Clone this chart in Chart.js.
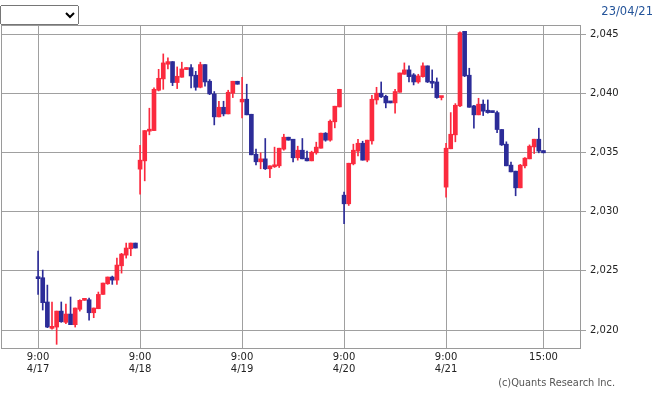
<!DOCTYPE html>
<html>
<head>
<meta charset="utf-8">
<script src="https://cdn.jsdelivr.net/npm/chart.js@4.4.1/dist/chart.umd.min.js"></script>
<style>
  html, body { margin: 0; padding: 0; background: #fff; }
  #wrap { position: relative; width: 659px; height: 394px; overflow: hidden; }
  #c { position: absolute; left: 0; top: 0; }
  #sel { position: absolute; left: 0; top: 5px; width: 79px; height: 20px; font: 11px "DejaVu Sans"; }
  #date { position: absolute; right: 6px; top: 4px; font: 11.5px "DejaVu Sans"; color: #24549a; }
  #copy { position: absolute; right: 44px; top: 377px; font: 9.8px "DejaVu Sans"; color: #555; }
</style>
</head>
<body>
<div id="wrap">
  <canvas id="c" width="659" height="394"></canvas>
  <select id="sel"><option></option></select>
  <div id="date">23/04/21</div>
  <div id="copy">(c)Quants Research Inc.</div>
</div>
<script>
// ---- data ----
const days = ['4/17', '4/18', '4/19', '4/20', '4/21'];
const slotTimes = ['9:00','9:15','9:30','9:45','10:00','10:15','10:30','10:45','11:00','11:15','11:30',
                   '12:30','12:45','13:00','13:15','13:30','13:45','14:00','14:15','14:30','14:45','15:00'];
const yTicks = [2020, 2025, 2030, 2035, 2040, 2045];
const xTickLabels = [['9:00','4/17'], ['9:00','4/18'], ['9:00','4/19'], ['9:00','4/20'], ['9:00','4/21'], ['15:00']];

// [open, high, low, close] per slot
const ohlc0417 = [
  [2024.48,2026.67,2023.01,2024.34],[2024.42,2025.07,2021.69,2022.31],[2022.37,2023.80,2020.20,2020.25],
  [2020.14,2022.37,2020.08,2020.31],[2020.25,2021.60,2018.79,2021.60],[2021.60,2022.37,2020.65,2020.70],
  [2020.65,2022.20,2020.53,2021.35],[2021.35,2022.79,2020.45,2020.45],[2020.45,2021.86,2020.25,2021.86],
  [2021.75,2022.56,2021.60,2022.51],[2022.51,2022.62,2022.51,2022.62],[2022.56,2022.70,2020.84,2021.46],
  [2021.46,2021.86,2021.04,2021.86],[2021.80,2023.21,2021.80,2023.01],[2023.01,2023.97,2023.01,2023.97],
  [2023.91,2024.48,2023.86,2024.48],[2024.48,2024.56,2023.86,2024.22],[2024.22,2026.08,2023.86,2025.49],
  [2025.43,2026.48,2024.81,2026.42],[2026.33,2027.35,2026.08,2026.93],[2026.87,2027.35,2026.28,2027.35],
  [2027.35,2027.35,2026.93,2026.93]
];
const ohlc0418 = [
  [2033.60,2035.62,2031.49,2034.36],[2034.30,2036.86,2032.61,2036.86],[2036.81,2038.75,2036.50,2036.95],
  [2036.86,2040.47,2036.86,2040.35],[2040.27,2042.04,2040.21,2041.28],[2041.23,2043.34,2040.35,2042.58],
  [2042.47,2043.00,2042.07,2042.69],[2042.69,2042.69,2040.66,2040.92],[2040.92,2042.24,2040.41,2041.45],
  [2041.37,2042.64,2041.37,2042.07],[2042.02,2042.18,2042.02,2042.18],[2042.18,2042.44,2040.47,2041.48],
  [2041.54,2041.87,2040.27,2040.52],[2040.52,2042.64,2040.47,2042.44],[2042.44,2042.44,2040.61,2040.97],
  [2041.03,2041.17,2039.90,2039.96],[2039.96,2040.16,2037.34,2038.02],[2038.02,2039.34,2038.02,2038.83],
  [2038.83,2039.34,2038.10,2038.27],[2038.27,2040.27,2038.27,2040.10],[2040.02,2041.03,2039.65,2041.03],
  [2041.03,2041.03,2040.78,2040.78]
];
const ohlc0419 = [
  [2039.28,2041.37,2037.93,2039.51],[2039.51,2040.78,2038.19,2038.19],[2038.24,2038.24,2034.81,2034.81],
  [2034.86,2035.29,2033.96,2034.22],[2034.22,2034.98,2033.63,2034.47],[2034.47,2036.19,2033.57,2033.63],
  [2033.63,2033.88,2032.87,2033.88],[2033.80,2035.46,2033.74,2033.96],[2033.88,2035.37,2033.74,2035.37],
  [2035.29,2036.55,2035.20,2036.30],[2036.30,2036.30,2036.05,2036.05],[2036.13,2036.13,2034.22,2034.56],
  [2034.56,2035.54,2034.36,2035.20],[2035.20,2036.19,2034.47,2034.47],[2034.53,2035.12,2034.30,2034.30],
  [2034.30,2035.12,2034.30,2035.03],[2034.98,2035.88,2034.86,2035.46],[2035.37,2036.64,2035.37,2036.64],
  [2036.64,2036.69,2035.96,2036.05],[2036.05,2037.76,2035.96,2037.65],[2037.60,2038.92,2037.09,2038.92],
  [2038.86,2040.35,2038.86,2040.35]
];
const ohlc0420 = [
  [2031.40,2031.66,2028.98,2030.67],[2030.67,2034.10,2030.53,2034.10],[2034.05,2035.71,2033.96,2035.20],
  [2035.12,2036.13,2034.72,2035.79],[2035.79,2035.96,2034.36,2034.36],[2034.36,2036.05,2034.22,2036.05],
  [2035.99,2039.85,2035.71,2039.51],[2039.45,2040.52,2039.09,2040.02],[2040.02,2040.97,2039.65,2039.71],
  [2039.76,2039.85,2038.78,2039.20],[2039.26,2039.26,2039.20,2039.20],[2039.20,2040.35,2038.33,2040.16],
  [2040.10,2041.73,2040.10,2041.73],[2041.62,2042.58,2041.62,2041.99],[2041.99,2042.33,2040.97,2041.42],
  [2041.57,2041.68,2040.72,2040.97],[2040.97,2041.62,2040.86,2041.48],[2041.42,2042.58,2041.37,2042.33],
  [2042.33,2042.33,2040.92,2040.97],[2041.03,2041.99,2040.47,2040.86],[2040.97,2041.31,2039.59,2039.65],
  [2039.65,2039.71,2039.45,2039.71]
];
const ohlc0421 = [
  [2032.08,2035.79,2031.23,2035.37],[2035.32,2038.38,2035.32,2036.55],[2036.50,2039.14,2035.91,2039.00],
  [2038.95,2045.20,2038.89,2045.14],[2045.25,2045.25,2041.42,2041.48],[2041.54,2042.13,2038.83,2038.83],
  [2038.95,2039.00,2037.06,2038.19],[2038.19,2039.59,2038.19,2039.09],[2039.09,2039.45,2038.13,2038.50],
  [2038.58,2039.45,2038.33,2038.38],[2038.50,2038.50,2038.38,2038.38],[2038.38,2038.50,2036.69,2036.95],
  [2036.95,2036.95,2035.60,2035.65],[2035.71,2035.91,2033.88,2033.88],[2033.94,2034.19,2033.37,2033.37],
  [2033.43,2033.43,2031.35,2032.02],[2032.02,2034.00,2032.02,2033.94],[2033.88,2034.58,2033.71,2034.53],
  [2034.47,2035.65,2034.47,2035.54],[2035.48,2036.13,2034.92,2036.13],[2036.13,2037.06,2034.98,2035.12],
  [2035.17,2035.17,2034.98,2034.98]
];

// ---- build ----
const perDay = [ohlc0417, ohlc0418, ohlc0419, ohlc0420, ohlc0421];
const nSlots = slotTimes.length;
const candles = [];
perDay.forEach((rows, d) => rows.forEach((r, i) => {
  candles.push({ x: d * nSlots + i, o: r[0], h: r[1], l: r[2], c: r[3] });
}));
const xTickPos = days.map((_, d) => d * nSlots).concat([(days.length - 1) * nSlots + slotTimes.indexOf('15:00')]);

const UP = '#fb2a3e', DOWN = '#2c2c98';
const colorOf = c => (c.c >= c.o ? UP : DOWN);

const frame = {
  id: 'frame',
  afterDraw(chart) {
    const a = chart.chartArea, g = chart.ctx;
    g.save();
    g.strokeStyle = '#9a9a9a';
    g.lineWidth = 1;
    g.strokeRect(Math.round(a.left) + 0.5, Math.round(a.top) + 0.5,
                 Math.round(a.right) - Math.round(a.left) - 1, Math.round(a.bottom) - Math.round(a.top));
    g.restore();
  }
};

Chart.defaults.font.family = 'DejaVu Sans';
Chart.defaults.font.size = 10;
Chart.defaults.color = '#222';

new Chart(document.getElementById('c'), {
  type: 'bar',
  data: {
    datasets: [
      {
        label: 'wick',
        data: candles.map(c => ({ x: c.x, y: [c.l, c.h] })),
        backgroundColor: candles.map(colorOf),
        barThickness: 1,
        minBarLength: 1,
        grouped: false,
        borderWidth: 0,
        order: 2
      },
      {
        label: 'body',
        data: candles.map(c => ({ x: c.x, y: [c.o, c.c] })),
        backgroundColor: candles.map(colorOf),
        barThickness: 4,
        minBarLength: 2,
        grouped: false,
        borderWidth: 0,
        order: 1
      }
    ]
  },
  options: {
    responsive: false,
    animation: false,
    devicePixelRatio: 1,
    layout: { padding: { left: 1, top: 25, right: 0, bottom: 0 } },
    plugins: { legend: { display: false }, tooltip: { enabled: false } },
    scales: {
      x: {
        type: 'linear',
        min: -8,
        max: 117.1,
        offset: false,
        afterBuildTicks: s => { s.ticks = xTickPos.map(v => ({ value: v })); },
        afterFit: s => { s.height = 46; },
        ticks: {
          autoSkip: false,
          maxRotation: 0,
          padding: 3,
          color: '#222',
          font: { size: 10, lineHeight: 1.2 },
          callback: (v, i) => xTickLabels[i]
        },
        grid: { color: '#a0a0a0', lineWidth: 1, drawTicks: false, offset: false },
        border: { display: false }
      },
      y: {
        position: 'right',
        min: 2018.48,
        max: 2045.785,
        afterBuildTicks: s => { s.ticks = yTicks.map(v => ({ value: v })); },
        afterFit: s => { s.width = 78; },
        ticks: {
          padding: 4,
          color: '#222',
          font: { size: 10 },
          callback: v => v.toLocaleString('en-US')
        },
        grid: { color: '#a0a0a0', lineWidth: 1, drawTicks: true, tickLength: 5 },
        border: { display: false }
      }
    }
  },
  plugins: [frame]
});
</script>
</body>
</html>
